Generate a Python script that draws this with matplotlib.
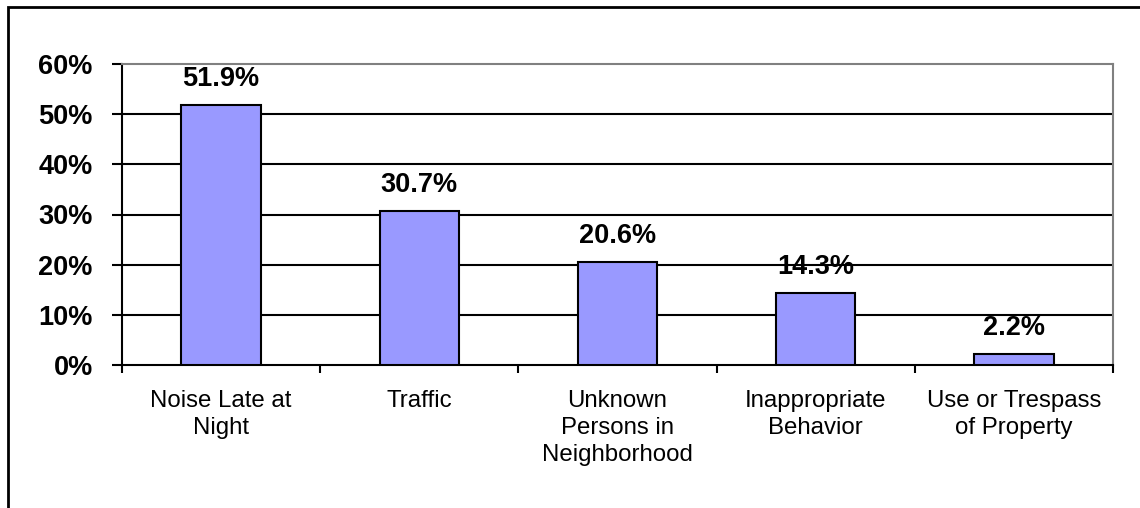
import matplotlib
matplotlib.use("Agg")
import matplotlib.pyplot as plt
from matplotlib.patches import Rectangle
import numpy as np

plt.rcParams['font.family'] = ['Liberation Sans', 'DejaVu Sans']

categories = ["Noise Late at\nNight", "Traffic", "Unknown\nPersons in\nNeighborhood",
              "Inappropriate\nBehavior", "Use or Trespass\nof Property"]
values = [51.9, 30.7, 20.6, 14.3, 2.2]
yticks = [0, 10, 20, 30, 40, 50, 60]
ytick_labels = ["0%", "10%", "20%", "30%", "40%", "50%", "60%"]

fig = plt.figure(figsize=(11.4, 5.08), dpi=100)
ax = fig.add_axes([122 / 1140, 1 - 365 / 508, (1113 - 122) / 1140, (365 - 64) / 508])

x = np.arange(len(values))
ax.bar(x, values, width=0.4, color="#9999FF", edgecolor="black", linewidth=1.5, zorder=3)

for xi, v in zip(x, values):
    ax.text(xi, v + 2.6, f"{v:.1f}%", ha="center", va="bottom",
            fontsize=19.5, fontweight="bold", zorder=4)

ax.set_xlim(-0.5, len(values) - 0.5)
ax.set_ylim(0, 60)
ax.set_yticks(yticks)
ax.set_yticklabels(ytick_labels, fontsize=19.5, fontweight="bold")
ax.tick_params(axis="y", direction="out", length=7, width=1.5, pad=14)

ax.set_xticks(x)
ax.set_xticklabels(categories, fontsize=17.3, va="top", linespacing=1.3)
ax.tick_params(axis="x", which="major", length=0, pad=18)
ax.set_xticks(np.arange(-0.5, len(values)), minor=True)
ax.tick_params(axis="x", which="minor", direction="out", length=6, width=1.5)

for g in yticks[1:-1]:
    ax.axhline(g, color="black", linewidth=1.5, zorder=1)

ax.spines["left"].set_linewidth(1.5)
ax.spines["bottom"].set_linewidth(1.5)
ax.spines["top"].set_color("#808080")
ax.spines["right"].set_color("#808080")
ax.spines["top"].set_linewidth(1.5)
ax.spines["right"].set_linewidth(1.5)

# outer chart border, cut off at right and bottom
fig.patches.append(Rectangle((8 / 1140, -0.1), 1.2, (508 - 7) / 508 + 0.1,
                             transform=fig.transFigure, fill=False,
                             edgecolor="black", linewidth=2))

fig.savefig("out.png", dpi=100)
